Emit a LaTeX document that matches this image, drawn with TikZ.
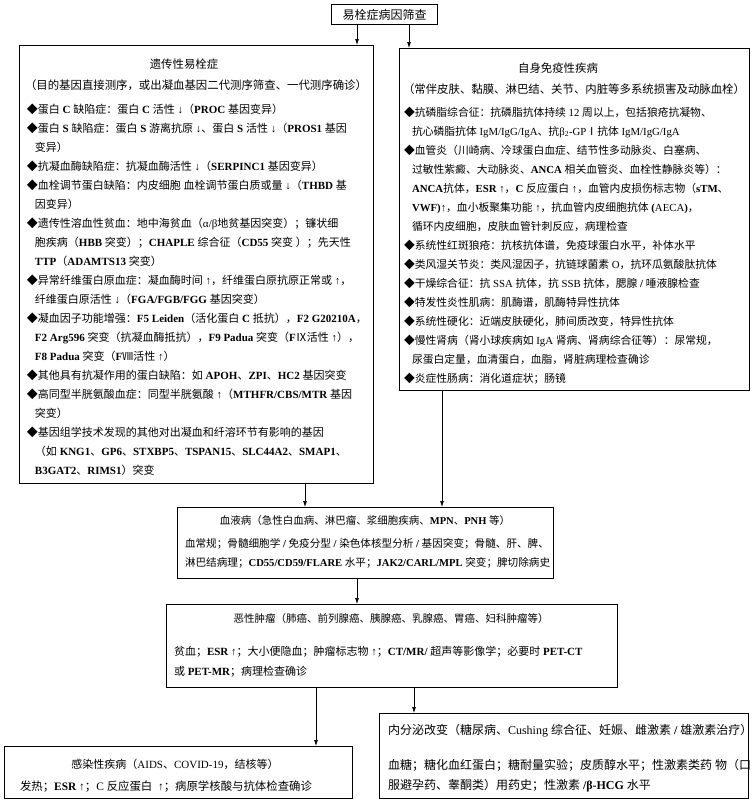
\documentclass[tikz,border=0pt]{standalone}
\usepackage{fontspec}
\setmainfont{Liberation Serif}
\newfontfamily\latinfont{Liberation Serif}
\newfontfamily\cjkfont{Noto Sans CJK SC}
\usetikzlibrary{arrows.meta}

\newif\iflatbold \latboldtrue
\newcommand\tocjk{\cjkfont\mdseries}
\newcommand\tolatin{\latinfont\iflatbold\bfseries\else\mdseries\fi}
\newcommand\nb[1]{{\latboldfalse\mdseries#1}}
\newcommand\ind{\hspace*{8pt}}
\newcommand\fsz[1]{\fontsize{#1}{19}\selectfont\latinfont\bfseries}
\newcommand\up{{\mdseries↑}}
\newcommand\dn{{\mdseries↓}}

\newXeTeXintercharclass\cjkcls
\newcount\cjkc
\newcommand\setcjkrange[2]{%
  \cjkc=#1\relax
  \loop
    \XeTeXcharclass\cjkc=\cjkcls
    \ifnum\cjkc<#2\relax
    \advance\cjkc by 1\relax
  \repeat}
\setcjkrange{"4E00}{"9FFF}
\setcjkrange{"3000}{"303F}
\setcjkrange{"FF00}{"FFEF}
\setcjkrange{"2150}{"218F}
\setcjkrange{"25A0}{"25FF}
\XeTeXinterchartoks 0 \cjkcls = {\tocjk}
\XeTeXinterchartoks 4095 \cjkcls = {\tocjk}
\XeTeXinterchartoks \cjkcls 0 = {\tolatin}
\XeTeXinterchartoks \cjkcls 4095 = {\tolatin}
\XeTeXinterchartokenstate=1

\tikzset{
  box/.style={draw=black, line width=0.8pt, rectangle, inner sep=0pt, anchor=north west},
  arr/.style={line width=0.7pt, -{Latex[length=6pt,width=4pt]}},
  txt/.style={inner sep=0pt, outer sep=0pt},
}

\newcommand\boxlines[6]{%
  \foreach \txtline [count=\k from 0] in {#6}{%
    \node[txt, anchor=base west, font=\fsz{#2}] (#1\k) at (#3, #4+#5*\k) {\txtline};}}

\begin{document}
\begin{tikzpicture}[x=1pt,y=-1pt]
\fill[white] (0,0) rectangle (753,801);
\useasboundingbox (0,0) rectangle (753,801);

% boxes
\node[box, minimum width=106, minimum height=20, line width=1pt] (top) at (331,4) {};
\node[txt, font=\fsz{12}] (toptext) at (top.center) {易栓症病因筛查};
\node[box, minimum width=354, minimum height=438] (lbox) at (19,45) {};
\node[box, minimum width=350, minimum height=342] (rbox) at (399,48) {};
\node[box, minimum width=376, minimum height=71] (hbox) at (177,507) {};
\node[box, minimum width=451, minimum height=83] (mbox) at (166,604) {};
\node[box, minimum width=369, minimum height=85] (ebox) at (379,713) {};
\node[box, minimum width=348, minimum height=52] (ibox) at (4,746) {};

% connector x positions
\coordinate (xa) at (305,0);
\coordinate (xb) at (442,0);
\coordinate (xc) at (357,0);
\coordinate (xd) at (316,0);
\coordinate (xe) at (414,0);
\coordinate (xf) at (409,0);

\draw[arr] (top.south -| xc) -- (lbox.north -| xc);
\draw[arr] (top.south -| xf) -- (rbox.north -| xf);
\draw[arr] (lbox.south -| xa) -- (hbox.north -| xa);
\draw[arr] (rbox.south -| xb) -- (hbox.north -| xb);
\draw[arr] (hbox.south -| xc) -- (mbox.north -| xc);
\draw[arr] (mbox.south -| xd) -- (ibox.north -| xd);
\draw[arr] (mbox.south -| xe) -- (ebox.north -| xe);

% left box
\node[txt, anchor=base, font=\fsz{11.4}] (lt) at (184,68) {遗传性易栓症};
\node[txt, anchor=base, font=\fsz{11.4}] (ls) at (196,89) {（目的基因直接测序，或出凝血基因二代测序筛查、一代测序确诊）};
\boxlines{L}{11}{27}{113}{19}{%
{◆蛋白 C 缺陷症：蛋白 C 活性 \dn（PROC 基因变异）},
{◆蛋白 S 缺陷症：蛋白 S 游离抗原 \dn、蛋白 S 活性 \dn（PROS1 基因},
{\ind 变异）},
{◆抗凝血酶缺陷症：抗凝血酶活性 \dn（SERPINC1 基因变异）},
{◆血栓调节蛋白缺陷：内皮细胞 血栓调节蛋白质或量 \dn（THBD 基},
{\ind 因变异）},
{◆遗传性溶血性贫血：地中海贫血（\nb{α/β}地贫基因突变）；镰状细},
{\ind 胞疾病（HBB 突变）；CHAPLE 综合征（CD55 突变 ）；先天性},
{\ind TTP（ADAMTS13 突变）},
{◆异常纤维蛋白原血症：凝血酶时间 \up，纤维蛋白原抗原正常或 \up，},
{\ind 纤维蛋白原活性 \dn（FGA/FGB/FGG 基因突变）},
{◆凝血因子功能增强：F5 Leiden（活化蛋白 C 抵抗），F2 G20210A，},
{\ind F2 Arg596 突变（抗凝血酶抵抗），F9 Padua 突变（FⅨ活性 \up），},
{\ind F8 Padua 突变（FⅧ活性 \up）},
{◆其他具有抗凝作用的蛋白缺陷：如 APOH、ZPI、HC2 基因突变},
{◆高同型半胱氨酸血症：同型半胱氨酸 \up（MTHFR/CBS/MTR 基因},
{\ind 突变）},
{◆基因组学技术发现的其他对出凝血和纤溶环节有影响的基因},
{\ind （如 KNG1、GP6、STXBP5、TSPAN15、SLC44A2、SMAP1、},
{\ind B3GAT2、RIMS1）突变}}

% right box
\node[txt, anchor=base, font=\fsz{11.4}] (rt) at (558,72) {自身免疫性疾病};
\node[txt, anchor=base, font=\fsz{11.4}] (rs) at (574,93) {（常伴皮肤、黏膜、淋巴结、关节、内脏等多系统损害及动脉血栓）};
\boxlines{R}{10.8}{404}{116}{19}{%
{◆抗磷脂综合征：抗磷脂抗体持续 \nb{12} 周以上，包括狼疮抗凝物、},
{\ind 抗心磷脂抗体 \nb{IgM/IgG/IgA}、抗\nb{β\textsubscript{2}-GP}Ⅰ抗体 \nb{IgM/IgG/IgA}},
{◆血管炎（川崎病、冷球蛋白血症、结节性多动脉炎、白塞病、},
{\ind 过敏性紫癜、大动脉炎、ANCA 相关血管炎、血栓性静脉炎等）：},
{\ind ANCA抗体，ESR \up，C 反应蛋白 \up，血管内皮损伤标志物（sTM、},
{\ind VWF)\up，血小板聚集功能 \up，抗血管内皮细胞抗体 (\nb{AECA})，},
{\ind 循环内皮细胞，皮肤血管针刺反应，病理检查},
{◆系统性红斑狼疮：抗核抗体谱，免疫球蛋白水平，补体水平},
{◆类风湿关节炎：类风湿因子，抗链球菌素 \nb{O}，抗环瓜氨酸肽抗体},
{◆干燥综合征：抗 \nb{SSA} 抗体，抗 \nb{SSB} 抗体，腮腺 / 唾液腺检查},
{◆特发性炎性肌病：肌酶谱，肌酶特异性抗体},
{◆系统性硬化：近端皮肤硬化，肺间质改变，特异性抗体},
{◆慢性肾病（肾小球疾病如 \nb{IgA} 肾病、肾病综合征等）：尿常规，},
{\ind 尿蛋白定量，血清蛋白，血脂，肾脏病理检查确诊},
{◆炎症性肠病：消化道症状；肠镜}}

% haematology box
\node[txt, anchor=base, font=\fsz{10.5}] (ht) at (365,524) {血液病（急性白血病、淋巴瘤、浆细胞疾病、MPN、PNH 等）};
\boxlines{H}{10.6}{185}{547}{19}{%
{血常规；骨髓细胞学 / 免疫分型 / 染色体核型分析 / 基因突变；骨髓、肝、脾、},
{淋巴结病理；CD55/CD59/FLARE 水平；JAK2/CARL/MPL 突变；脾切除病史}}

% malignancy box
\node[txt, anchor=base, font=\fsz{10.5}] (mt) at (391,622) {恶性肿瘤（肺癌、前列腺癌、胰腺癌、乳腺癌、胃癌、妇科肿瘤等）};
\boxlines{M}{11}{174}{655}{20}{%
{贫血；ESR \up；大小便隐血；肿瘤标志物 \up；CT/MR/ 超声等影像学；必要时 PET-CT},
{或 PET-MR；病理检查确诊}}

% endocrine box
\node[txt, anchor=base west, font=\fsz{12}] (et) at (388,734) {内分泌改变（糖尿病、\nb{Cushing} 综合征、妊娠、雌激素 / 雄激素治疗）};
\boxlines{E}{12}{388}{769}{20}{%
{血糖；糖化血红蛋白；糖耐量实验；皮质醇水平；性激素类药 物（口},
{服避孕药、睾酮类）用药史；性激素 /β-HCG 水平}}

% infection box
\node[txt, anchor=base, font=\fsz{11}] (it) at (175,768) {感染性疾病（\nb{AIDS、COVID-19}，结核等）};
\node[txt, anchor=base west, font=\fsz{11.4}] (il) at (20,790) {发热；ESR \up；\nb{C} 反应蛋白 \ \up；病原学核酸与抗体检查确诊};
\end{tikzpicture}
\end{document}
